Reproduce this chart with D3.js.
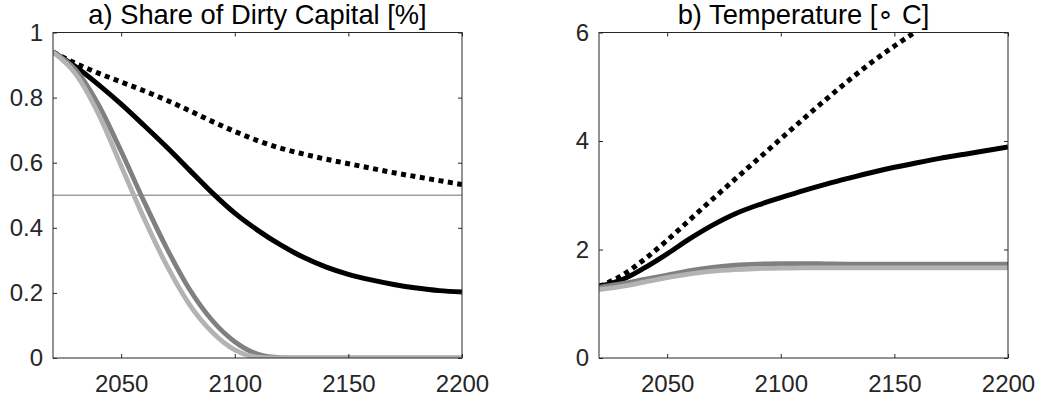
<!DOCTYPE html>
<html><head><meta charset="utf-8">
<script src="https://cdn.jsdelivr.net/npm/d3@7"></script>
<style>body{margin:0;background:#fff}</style>
</head><body><svg id="c" width="1038" height="402"></svg>
<script>
const years = [2020,2030,2040,2050,2060,2070,2080,2090,2100,2110,2120,2130,2140,2150,2160,2170,2180,2190,2200];
// Panel a: share of dirty capital
const shareDotted = [0.94,0.905,0.875,0.848,0.821,0.792,0.76,0.727,0.696,0.668,0.645,0.627,0.611,0.597,0.583,0.569,0.557,0.545,0.533];
const shareSolid  = [0.94,0.895,0.84,0.78,0.715,0.648,0.578,0.508,0.445,0.393,0.348,0.31,0.28,0.257,0.24,0.226,0.215,0.207,0.203];
const shareDark   = [0.94,0.885,0.778,0.635,0.482,0.338,0.212,0.116,0.05,0.012,0.001,0,0,0,0,0,0,0,0];
const shareLight  = [0.94,0.872,0.75,0.59,0.43,0.285,0.165,0.08,0.025,0.003,0,0,0,0,0,0,0,0,0];
// Panel b: temperature
const tempDotted = [1.32,1.52,1.82,2.17,2.55,2.93,3.30,3.67,4.04,4.41,4.77,5.12,5.45,5.75,6.03,6.3,6.57,6.84,7.1];
const tempSolid  = [1.32,1.44,1.66,1.92,2.2,2.45,2.66,2.82,2.955,3.085,3.205,3.315,3.42,3.515,3.6,3.68,3.75,3.82,3.89];
const tempDark   = [1.30,1.37,1.45,1.53,1.61,1.67,1.71,1.73,1.74,1.74,1.735,1.73,1.73,1.73,1.73,1.73,1.73,1.73,1.73];
const tempLight  = [1.26,1.32,1.40,1.48,1.55,1.60,1.63,1.65,1.655,1.66,1.66,1.66,1.66,1.66,1.66,1.66,1.66,1.66,1.66];

const xTicks = [2050,2100,2150,2200];
const shareTicks = [0,0.2,0.4,0.6,0.8,1];
const tempTicks = [0,2,4,6];
const titleA = "a) Share of Dirty Capital [%]";
const titleB = "b) Temperature [\u2218 C]";
const shareThreshold = 0.5;

const svg = d3.select("#c");
const FONT = "'Liberation Sans', Arial, Helvetica, sans-serif";
const AX = "#262626";

function panel(id, box, yDomain, yTicks, title, series, hline) {
  const x = d3.scaleLinear().domain([2020,2200]).range([box.l, box.r]);
  const y = d3.scaleLinear().domain(yDomain).range([box.b, box.t]);
  const g = svg.append("g");
  const clipId = "clip" + id;
  svg.append("clipPath").attr("id", clipId).append("rect")
    .attr("x", box.l).attr("y", box.t).attr("width", box.r - box.l).attr("height", box.b - box.t);

  const plot = g.append("g").attr("clip-path", `url(#${clipId})`);
  if (hline !== null) {
    plot.append("line").attr("x1", box.l).attr("x2", box.r)
      .attr("y1", y(hline)).attr("y2", y(hline))
      .attr("stroke", "#a0a0a0").attr("stroke-width", 1.5);
  }
  const line = d3.line().x((d,i) => x(years[i])).y(d => y(d)).curve(d3.curveMonotoneX);
  series.forEach(s => {
    plot.append("path").datum(s.values).attr("d", line)
      .attr("fill", "none").attr("stroke", s.color).attr("stroke-width", s.width)
      .attr("stroke-dasharray", s.dash || null)
      .attr("stroke-linejoin", "round").attr("stroke-linecap", "butt");
  });

  const fmt = d => String(d);
  const styleAxis = sel => {
    sel.select(".domain").remove();
    sel.selectAll(".tick line").attr("stroke", AX);
    sel.selectAll("text").attr("fill", AX).style("font-family", FONT).style("font-size", "24px");
  };
  g.append("g").attr("transform", `translate(0,${box.b})`)
    .call(d3.axisBottom(x).tickValues(xTicks).tickFormat(fmt).tickSizeInner(-4).tickSizeOuter(0).tickPadding(17))
    .call(styleAxis);
  g.append("g").attr("transform", `translate(0,${box.t})`)
    .call(d3.axisTop(x).tickValues(xTicks).tickFormat("").tickSizeInner(-4).tickSizeOuter(0))
    .call(styleAxis);
  g.append("g").attr("transform", `translate(${box.l},0)`)
    .call(d3.axisLeft(y).tickValues(yTicks).tickFormat(fmt).tickSizeInner(-4).tickSizeOuter(0).tickPadding(10))
    .call(styleAxis);
  g.append("g").attr("transform", `translate(${box.r},0)`)
    .call(d3.axisRight(y).tickValues(yTicks).tickFormat("").tickSizeInner(-4).tickSizeOuter(0))
    .call(styleAxis);
  g.append("rect").attr("x", box.l).attr("y", box.t)
    .attr("width", box.r - box.l).attr("height", box.b - box.t)
    .attr("fill", "none").attr("stroke", AX).attr("stroke-width", 1);
  g.append("text").attr("x", (box.l + box.r) / 2).attr("y", 24)
    .attr("text-anchor", "middle").style("font-family", FONT).style("font-size", "27.3px")
    .attr("fill", "#000").text(title);
}

panel("a", {l:53, r:462, t:32.5, b:358}, [0,1], shareTicks, titleA, [
  {values: shareDotted, color: "#000", width: 5, dash: "5,4.5"},
  {values: shareSolid, color: "#000", width: 5},
  {values: shareDark, color: "#808080", width: 4.8},
  {values: shareLight, color: "#b3b3b3", width: 4.8}
], shareThreshold);

panel("b", {l:599, r:1008, t:32.5, b:358}, [0,6], tempTicks, titleB, [
  {values: tempDotted, color: "#000", width: 5, dash: "5,4.5"},
  {values: tempSolid, color: "#000", width: 5},
  {values: tempDark, color: "#808080", width: 4.8},
  {values: tempLight, color: "#b3b3b3", width: 4.8}
], null);
</script></body></html>
